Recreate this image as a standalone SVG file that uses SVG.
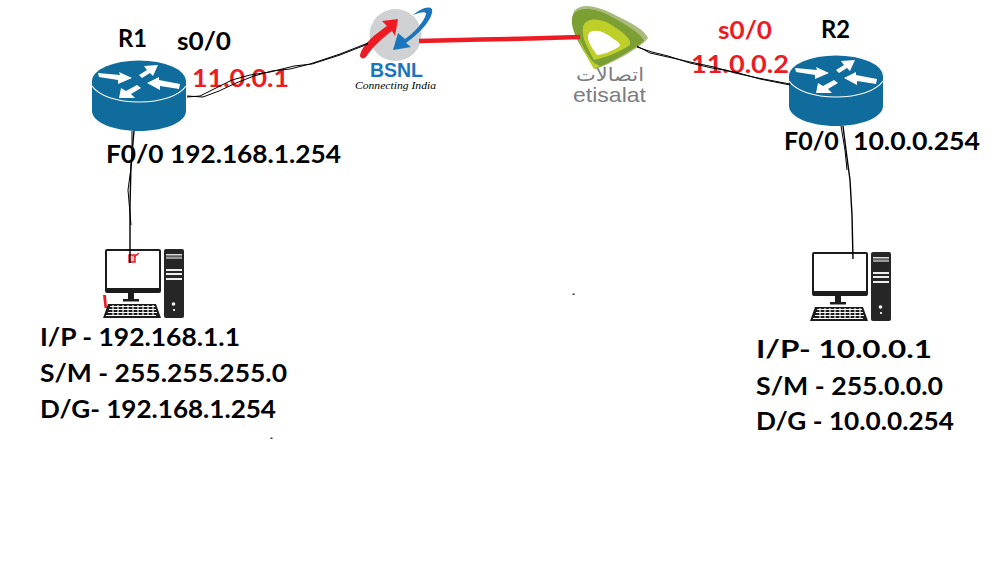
<svg xmlns="http://www.w3.org/2000/svg" width="998" height="565" viewBox="0 0 998 565">
<style>
text{font-family:Lato,"Open Sans","Liberation Sans",sans-serif;font-weight:700;fill:#000;font-size:25px}
.red{fill:#ed1c24}
.wire{fill:none;stroke:#000;stroke-width:1}
.wire2{fill:none;stroke:#000;stroke-width:1.4}
</style>
<defs>
<g id="router">
<path d="M-47 0V30C-47 41-26 50 0 50S47 41 47 30V0Z" fill="#0f6c9c"/>
<ellipse cx="0" cy="0" rx="47" ry="20.500" fill="#0f6c9c"/>
<path d="M-47 5C-40 15-22 21 0 21S40 15 47 5" fill="none" stroke="#fff" stroke-width="1.200"/>
<g fill="#fff">
<polygon points="-41,-8 -19,-6 -20,-9 -7,-3 -21,3 -21,-1 -40,-4"/>
<polygon points="0,-6 8,-11 5,-15 19,-16 14,-5 11,-8 3,-3"/>
<polygon points="8,2 20,-4 20,-1 41,3 40,8 21,5 21,9"/>
<polygon points="-2,4 2,7 -8,13 -4,17 -20,17 -18,7 -13,10"/>
</g>
</g>
<g id="pc">
<rect x="105" y="249" width="56" height="44" rx="2" fill="#1c1c1c"/>
<rect x="107" y="251" width="52" height="37" fill="#fff"/>
<rect x="128" y="293" width="6" height="6" fill="#1c1c1c"/>
<rect x="123" y="299" width="16" height="2.500" fill="#1c1c1c"/>
<rect x="164" y="249" width="20" height="69" rx="2" fill="#262626"/>
<rect x="166" y="254" width="16" height="1.500" fill="#ddd"/>
<rect x="166" y="256.500" width="16" height="2.500" fill="#999"/>
<rect x="166" y="269" width="16" height="2" fill="#eee"/>
<rect x="166" y="273" width="16" height="2" fill="#eee"/>
<rect x="166" y="278" width="16" height="2" fill="#eee"/>
<circle cx="173.500" cy="304" r="1.800" fill="#fff"/>
<rect x="173" y="309" width="2" height="2" fill="#ddd"/>
<path d="M108 304H156L161 318H103Z" fill="#1c1c1c"/>
<path d="M110 306.500H155M109 309.500H156M108 312.500H157" stroke="#fff" stroke-width="1" fill="none"/>
<path d="M113 305V315M118 305V315M123 305V315M128 305V315M133 305V315M138 305V315M143 305V315M148 305V315M153 305V315" stroke="#fff" stroke-width="1.100" fill="none"/>
<rect x="106" y="315" width="50" height="1" fill="#fff"/>
</g>
</defs>

<g id="r1">
<use href="#router" x="139" y="81"/>
<text x="118" y="47" textLength="29" lengthAdjust="spacingAndGlyphs">R1</text>
<text x="177" y="50" textLength="54" lengthAdjust="spacingAndGlyphs">s0/0</text>
<text class="red" x="192" y="87" textLength="97" lengthAdjust="spacingAndGlyphs">11.0.0.1</text>
<text x="106" y="163" textLength="235" lengthAdjust="spacingAndGlyphs">F0/0 192.168.1.254</text>
</g>

<g id="bsnl">
<circle cx="395.500" cy="35" r="26" fill="#d0d1d3"/>
<path d="M432 9C429 5 420 9 413 15C420 12 426 11 426 14C424 22 414 33 405 39L398 33L393 50L411 47L406 43C420 33 434 18 432 9Z" fill="#1b75bc"/>
<path d="M398 19L382 21L387 26C375 34 361 46 360 56C361 59 364 59 366 57C370 50 382 38 392 31L395 36Z" fill="#ed1c24"/>
<text x="370" y="76.500" textLength="53" lengthAdjust="spacingAndGlyphs" style="font-size:21px;fill:#1b75bc;font-family:'Liberation Sans',sans-serif">BSNL</text>
<text x="355" y="89" textLength="81" lengthAdjust="spacingAndGlyphs" style="font-size:11px;font-style:italic;font-weight:400;font-family:'Liberation Serif',serif">Connecting India</text>
</g>

<g id="etisalat">
<path d="M574 11C582 2 598 6 615 15C630 22 645 30 648 38C640 48 615 62 596 69C586 55 568 25 574 11Z" fill="#a9bb7c"/>
<path d="M572 18C574 7 592 6 610 16C625 24 642 34 644 41C634 49 612 62 595 69C586 54 570 33 572 18Z" fill="#7b9f33"/>
<path d="M576 31C581 43 587 56 594 63L600 66L594 69C587 58 580 44 576 31Z" fill="#bfcf2a"/>
<path d="M583 27C585 18 598 17 610 24C622 31 632 39 630 45C620 52 604 58 594 60C589 50 581 38 583 27Z" fill="#bfcf2a"/>
<path d="M588 35C590 29 600 30 608 35C615 40 621 43 620 46C613 51 602 55 597 55C593 49 587 42 588 35Z" fill="#fff"/>
<text x="576" y="81" textLength="68" lengthAdjust="spacingAndGlyphs" direction="rtl" style="font-size:18px;font-weight:400;fill:#7c7d7f;font-family:'DejaVu Sans','Noto Sans',sans-serif" text-anchor="start" transform="translate(68 0)">اتصالات</text>
<text x="573" y="102" textLength="73" lengthAdjust="spacingAndGlyphs" style="font-size:21px;font-weight:400;fill:#7c7d7f;font-family:'Liberation Sans',sans-serif">etisalat</text>
</g>

<g id="r2">
<use href="#router" x="836" y="76"/>
<text x="821" y="38" textLength="29" lengthAdjust="spacingAndGlyphs">R2</text>
<text class="red" x="718" y="39" textLength="54" lengthAdjust="spacingAndGlyphs">s0/0</text>
<text class="red" x="691" y="73" textLength="98" lengthAdjust="spacingAndGlyphs">11.0.0.2</text>
<text x="784" y="150">F0/0 <tspan x="853" textLength="127" lengthAdjust="spacingAndGlyphs">10.0.0.254</tspan></text>
</g>

<g id="pc1">
<use href="#pc"/>
<path d="M129 255H135V262H129Z" fill="#f9b5b8" stroke="#ed1c24" stroke-width="1.500"/>
<path d="M134 257L139 253" fill="none" stroke="#ed1c24" stroke-width="1.500"/>
<path d="M103 295H106L107 308H104.500Z" fill="#ed1c24"/>
<text x="40" y="346" textLength="200" lengthAdjust="spacingAndGlyphs">I/P - 192.168.1.1</text>
<text x="40" y="382" textLength="247" lengthAdjust="spacingAndGlyphs">S/M - 255.255.255.0</text>
<text x="40" y="418" textLength="236" lengthAdjust="spacingAndGlyphs">D/G- 192.168.1.254</text>
</g>

<g id="pc2">
<use href="#pc" x="707" y="3"/>
<text x="756" y="358" textLength="176" lengthAdjust="spacingAndGlyphs">I/P- 10.0.0.1</text>
<text x="756" y="395" textLength="187" lengthAdjust="spacingAndGlyphs">S/M - 255.0.0.0</text>
<text x="756" y="430" textLength="198" lengthAdjust="spacingAndGlyphs">D/G - 10.0.0.254</text>
</g>

<g id="connectors">
<path class="wire" d="M187 96L203 97L219 91L236 83L254 76L272 71L290 69L310 64L340 54L368 43"/>
<path class="wire" d="M187 97L200 96L214 89L232 80L250 75L270 72L294 66L312 64L340 55L368 44"/>
<path d="M419 41L480 39.500L530 38.500L580 37" fill="none" stroke="#ed1c24" stroke-width="4.500"/>
<path class="wire" d="M637 47L652 52L668 56L690 63L712 68L735 72L760 79L790 85"/>
<path class="wire" d="M637 46L650 53L668 57L690 62L714 67L735 73L758 78L790 84"/>
<path class="wire2" d="M134 131L131 165L130 205L130 263"/>
<path class="wire" d="M132 131L132 160L128 190L131 225"/>
<path class="wire2" d="M843 126L846 150L850 180L852 215L853 259"/>
<path class="wire" d="M841 126L845 150L847 170"/>
</g>

<rect x="572.500" y="293.500" width="2" height="1.500" fill="#333"/>
<rect x="270.500" y="437.500" width="2" height="1.500" fill="#333"/>
</svg>
